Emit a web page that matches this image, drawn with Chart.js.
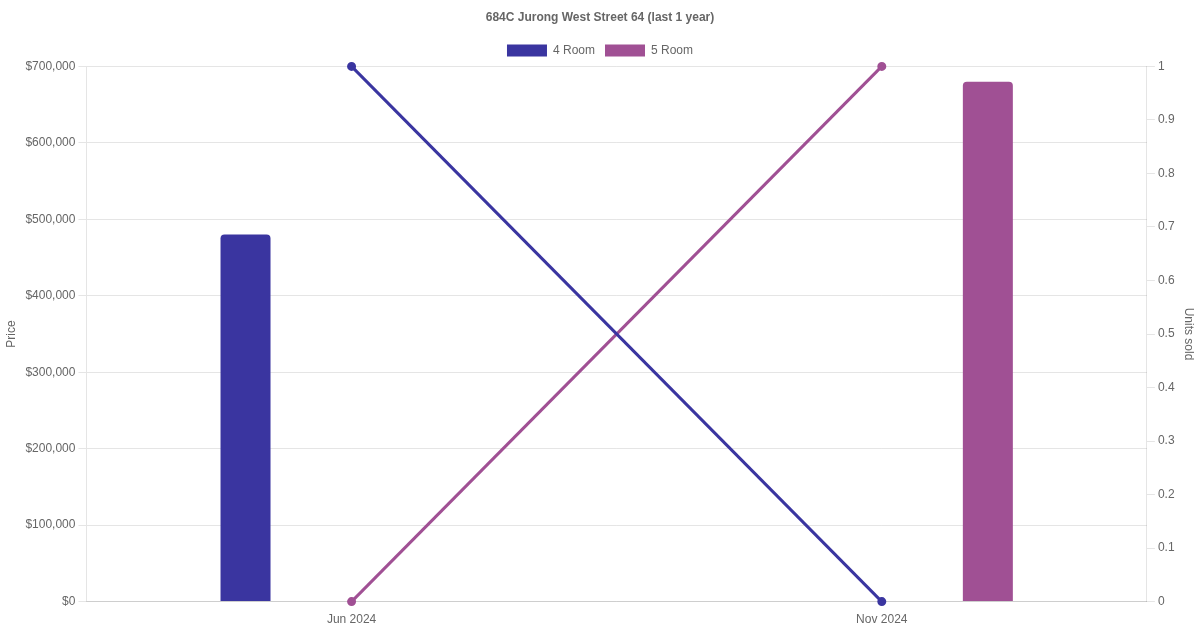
<!DOCTYPE html>
<html lang="en">
  <head>
    <meta charset="UTF-8" />
    <script src="https://cdn.jsdelivr.net/npm/chart.js@4.4.1/dist/chart.umd.min.js"></script>
    <title>684C Jurong West Street 64</title>
    <style>
      html, body { margin: 0; padding: 0; background: #fff; }
      #wrap { width: 1200px; height: 630px; }
    </style>
  </head>
  <body>
    <div id="wrap"><canvas id="myChart"></canvas></div>
    <script>
      const months = ["Jun 2024", "Nov 2024"];
      const price4Room = [480000, null];
      const price5Room = [null, 680000];
      const units4Room = [1, 0];
      const units5Room = [0, 1];

      const blue = "#3A35A0";
      const purple = "#A05094";

      Chart.defaults.font.family = "'Liberation Sans', Arial, sans-serif";
      Chart.defaults.font.size = 12;
      Chart.defaults.color = "#666";

      const ctx = document.getElementById("myChart").getContext("2d");
      new Chart(ctx, {
        data: {
          labels: months,
          datasets: [
            {
              type: "line",
              label: "4 Room units",
              data: units4Room,
              yAxisID: "y1",
              borderColor: blue,
              backgroundColor: blue,
              borderWidth: 3,
              pointRadius: 3,
              tension: 0,
              clip: false,
            },
            {
              type: "line",
              label: "5 Room units",
              data: units5Room,
              yAxisID: "y1",
              borderColor: purple,
              backgroundColor: purple,
              borderWidth: 3,
              pointRadius: 3,
              tension: 0,
              clip: false,
            },
            {
              type: "bar",
              label: "4 Room",
              data: price4Room,
              yAxisID: "y",
              backgroundColor: blue,
              borderColor: blue,
              borderRadius: 4,
              borderSkipped: "bottom",
              maxBarThickness: 50,
            },
            {
              type: "bar",
              label: "5 Room",
              data: price5Room,
              yAxisID: "y",
              backgroundColor: purple,
              borderColor: purple,
              borderRadius: 4,
              borderSkipped: "bottom",
              maxBarThickness: 50,
            },
          ],
        },
        options: {
          responsive: true,
          maintainAspectRatio: false,
          animation: false,
          plugins: {
            title: {
              display: true,
              text: "684C Jurong West Street 64 (last 1 year)",
              font: { weight: "bold", size: 12 },
            },
            legend: {
              labels: {
                filter: (item, data) => data.datasets[item.datasetIndex].type === "bar",
              },
            },
          },
          scales: {
            x: {
              grid: { display: false },
            },
            y: {
              position: "left",
              min: 0,
              max: 700000,
              ticks: {
                stepSize: 100000,
                callback: (v) => "$" + v.toLocaleString("en-US"),
              },
              title: { display: true, text: "Price" },
            },
            y1: {
              position: "right",
              min: 0,
              max: 1,
              ticks: {
                stepSize: 0.1,
                callback: (v) => String(Number(v.toFixed(1))),
              },
              grid: { drawOnChartArea: false },
              title: { display: true, text: "Units sold" },
            },
          },
        },
      });
    </script>
  </body>
</html>
